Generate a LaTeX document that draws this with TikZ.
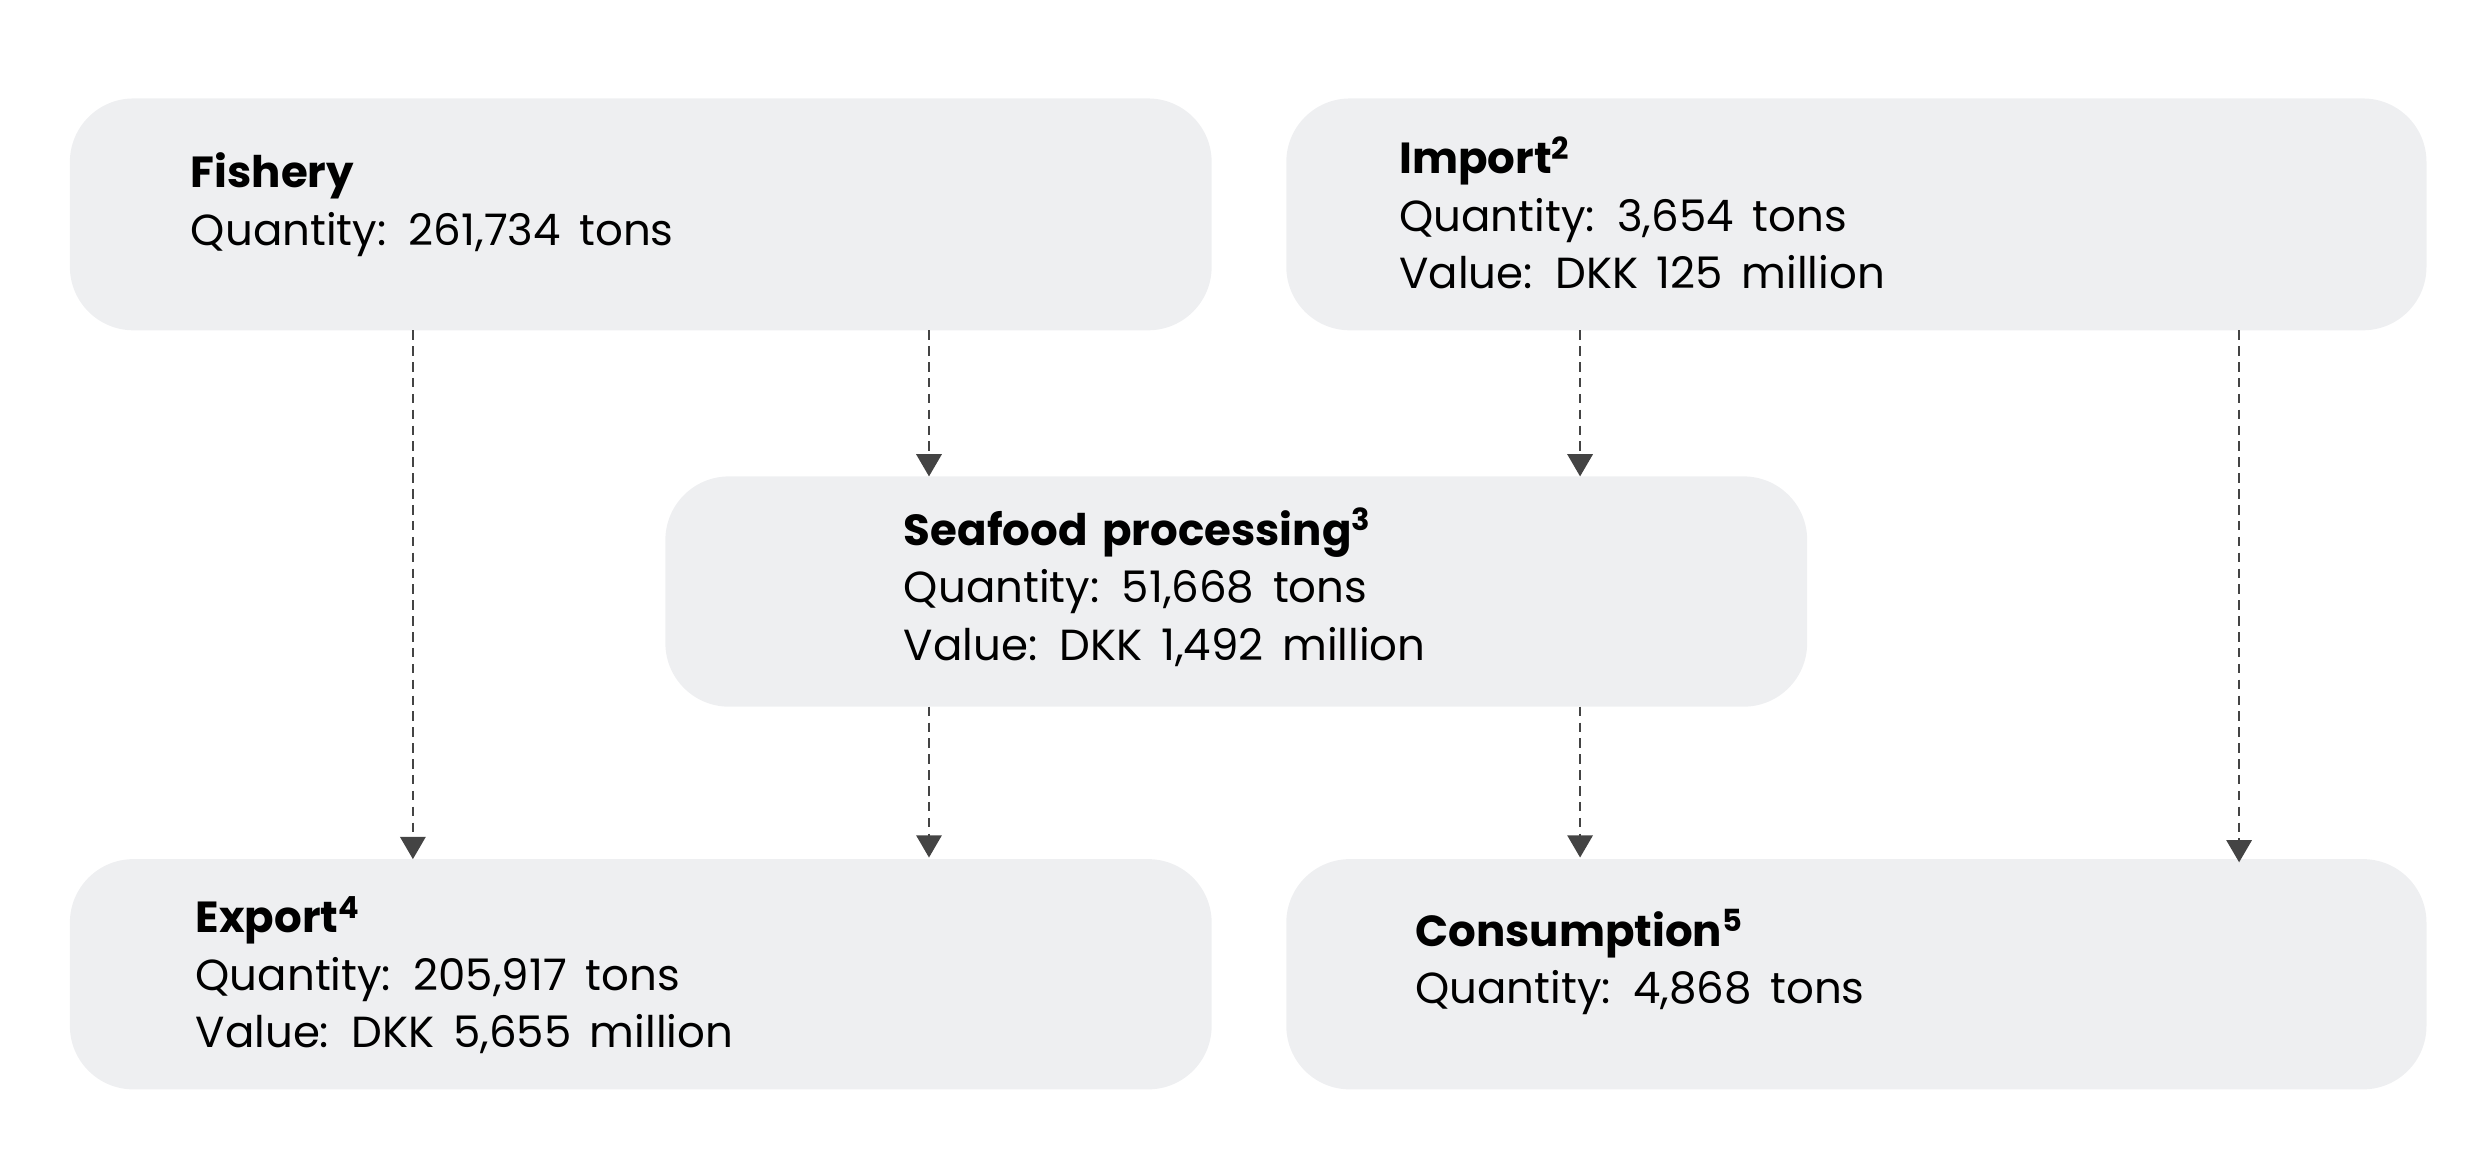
\documentclass[tikz,border=0pt]{standalone}
\usepackage{fontspec}
\setmainfont[WordSpace={1.6,1,1}]{Poppins}
\usetikzlibrary{arrows.meta}
\definecolor{boxgray}{HTML}{EEEFF1}
\definecolor{arrgray}{HTML}{444444}
\begin{document}
\begin{tikzpicture}[x=1bp,y=-1bp,
  box/.style={fill=boxgray,rounded corners=40bp,draw=none},
  txt/.style={anchor=west,align=left,inner sep=0pt,font=\fontsize{27.5}{36.5}\selectfont,text=black},
  flow/.style={draw=arrgray,dashed,line width=1.2bp,dash pattern=on 6bp off 4bp,-{Triangle[length=14bp,width=16bp]}}]
\useasboundingbox (0,0) rectangle (1568,737);
\path[box] (44,62) rectangle (763,208);
\path[box] (810,62) rectangle (1528,208);
\path[box] (419,300) rectangle (1138,445);
\path[box] (44,541) rectangle (763,686);
\path[box] (810,541) rectangle (1528,686);
\node[txt] (fish) at (120,129) {\textbf{Fishery}\\Quantity: 261,734 tons};
\node[txt] (imp) at (881,134) {\textbf{Import\textsuperscript{2}}\\Quantity: 3,654 tons\\Value: DKK 125 million};
\node[txt] (proc) at (569,370) {\textbf{Seafood processing\textsuperscript{3}}\\Quantity: 51,668 tons\\Value: DKK 1,492 million};
\node[txt] (exp) at (123,614) {\textbf{Export\textsuperscript{4}}\\Quantity: 205,917 tons\\Value: DKK 5,655 million};
\node[txt] (cons) at (891,606) {\textbf{Consumption\textsuperscript{5}}\\Quantity: 4,868 tons};
\coordinate (f1) at (260,208); \coordinate (e1) at (260,541);
\coordinate (f2) at (585,208); \coordinate (p1) at (585,300);
\coordinate (i1) at (995,208); \coordinate (p2) at (995,300);
\coordinate (i2) at (1410,208); \coordinate (c2) at (1410,543);
\coordinate (p3) at (585,445); \coordinate (e2) at (585,540);
\coordinate (p4) at (995,445); \coordinate (c1) at (995,540);
\draw[flow] (f1) -- (e1);
\draw[flow] (f2) -- (p1);
\draw[flow] (i1) -- (p2);
\draw[flow] (i2) -- (c2);
\draw[flow] (p3) -- (e2);
\draw[flow] (p4) -- (c1);
\end{tikzpicture}
\end{document}
